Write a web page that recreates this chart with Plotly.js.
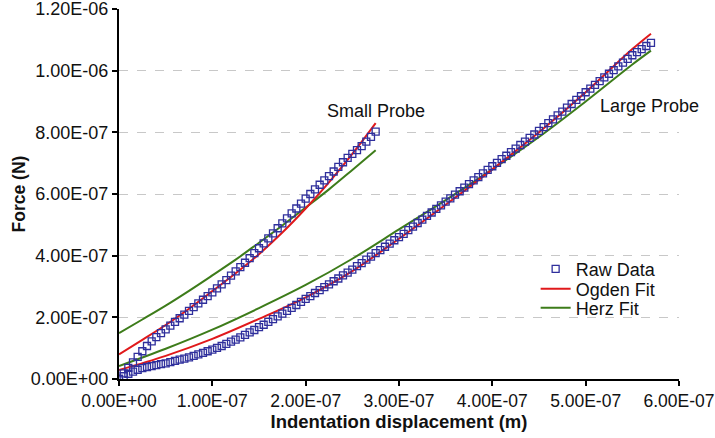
<!DOCTYPE html>
<html>
<head>
<meta charset="utf-8">
<script src="https://cdn.plot.ly/plotly-3.0.1.min.js"></script>
<style>html,body{margin:0;padding:0;background:#fff}#chart{width:715px;height:438px}</style>
</head>
<body>
<div id="chart"></div>
<script>
// Values in units of 1e-7 (m for displacement, N for force)
const SCALE = 1e-7;

// Large probe raw data
const largeRawX = [0.00,0.05,0.10,0.15,0.20,0.25,0.30,0.35,0.40,0.45,0.50,0.55,0.60,0.65,0.70,0.75,0.80,0.85,0.90,0.95,
  1.00,1.05,1.10,1.15,1.20,1.25,1.30,1.35,1.40,1.45,1.50,1.55,1.60,1.65,1.70,1.75,1.80,1.85,1.90,1.95,
  2.00,2.05,2.10,2.15,2.20,2.25,2.30,2.35,2.40,2.45,2.50,2.55,2.60,2.65,2.70,2.75,2.80,2.85,2.90,2.95,
  3.00,3.05,3.10,3.15,3.20,3.25,3.30,3.35,3.40,3.45,3.50,3.55,3.60,3.65,3.70,3.75,3.80,3.85,3.90,3.95,
  4.00,4.05,4.10,4.15,4.20,4.25,4.30,4.35,4.40,4.45,4.50,4.55,4.60,4.65,4.70,4.75,4.80,4.85,4.90,4.95,
  5.00,5.05,5.10,5.15,5.20,5.25,5.30,5.35,5.40,5.45,5.50,5.55,5.60,5.65,5.70];
const largeRawF = [0.00,0.09,0.17,0.24,0.30,0.35,0.39,0.42,0.45,0.48,0.51,0.55,0.59,0.63,0.66,0.70,0.75,0.80,0.85,0.90,
  0.95,1.01,1.07,1.14,1.21,1.28,1.35,1.43,1.51,1.59,1.68,1.76,1.85,1.94,2.03,2.12,2.21,2.31,2.40,2.50,
  2.60,2.69,2.79,2.88,2.98,3.07,3.17,3.26,3.36,3.45,3.55,3.66,3.76,3.87,3.97,4.08,4.18,4.29,4.39,4.50,
  4.60,4.71,4.83,4.94,5.06,5.17,5.29,5.40,5.52,5.63,5.75,5.86,5.98,6.09,6.21,6.32,6.44,6.55,6.67,6.78,
  6.90,7.01,7.13,7.24,7.36,7.47,7.59,7.70,7.82,7.93,8.05,8.17,8.30,8.42,8.55,8.67,8.80,8.92,9.05,9.17,
  9.30,9.42,9.54,9.66,9.78,9.90,10.02,10.14,10.26,10.38,10.50,10.60,10.70,10.80,10.90];

// Small probe raw data
const smallRawX = [0.00,0.05,0.10,0.15,0.20,0.25,0.30,0.35,0.40,0.45,0.50,0.55,0.60,0.65,0.70,0.75,0.80,0.85,0.90,0.95,
  1.00,1.05,1.10,1.15,1.20,1.25,1.30,1.35,1.40,1.45,1.50,1.55,1.60,1.65,1.70,1.75,1.80,1.85,1.90,1.95,
  2.00,2.05,2.10,2.15,2.20,2.25,2.30,2.35,2.40,2.45,2.50,2.55,2.60,2.65,2.70,2.75];
const smallRawF = [0.00,0.18,0.36,0.54,0.72,0.90,1.07,1.22,1.36,1.49,1.61,1.73,1.85,1.97,2.09,2.21,2.33,2.45,2.57,2.69,
  2.81,2.94,3.07,3.21,3.35,3.49,3.63,3.77,3.92,4.08,4.24,4.40,4.56,4.72,4.89,5.05,5.21,5.37,5.53,5.69,
  5.85,6.00,6.15,6.30,6.44,6.58,6.73,6.88,7.03,7.17,7.30,7.42,7.55,7.70,7.85,8.02];

// Fits
const smallFitX = [0.00,0.25,0.50,0.75,1.00,1.25,1.50,1.75,2.00,2.25,2.50,2.75];
const smallOgdenF = [0.80,1.27,1.75,2.28,2.85,3.43,4.05,4.75,5.53,6.38,7.30,8.30];
const smallHerzF  = [1.49,1.93,2.38,2.86,3.36,3.87,4.42,4.98,5.56,6.15,6.78,7.42];
const largeFitX = [0.0,0.5,1.0,1.5,2.0,2.5,3.0,3.5,4.0,4.5,5.0,5.5,5.7];
const largeOgdenF = [0.29,0.75,1.30,1.95,2.65,3.50,4.55,5.65,6.80,8.00,9.30,10.70,11.20];
const largeHerzF  = [0.42,0.98,1.60,2.30,3.05,3.90,4.85,5.80,6.80,7.85,9.00,10.20,10.65];

// Axis ticks
const xTickVals = [0,1,2,3,4,5,6];
const xTickText = ["0.00E+00","1.00E-07","2.00E-07","3.00E-07","4.00E-07","5.00E-07","6.00E-07"];
const yTickVals = [0,2,4,6,8,10,12];
const yTickText = ["0.00E+00","2.00E-07","4.00E-07","6.00E-07","8.00E-07","1.00E-06","1.20E-06"];

const s = a => a.map(v => v * SCALE);

const RAW_COLOR = '#2f2f9c';
const OGDEN_COLOR = '#e0191b';
const HERZ_COLOR = '#3d7c1a';
const FONT = '"Liberation Sans", Arial, sans-serif';
const TXT = '#111';

const traces = [
  {x: s(largeFitX), y: s(largeHerzF), mode: 'lines', line: {color: HERZ_COLOR, width: 2, shape: 'spline'}, name: 'Herz Fit', legend: 'legend3', showlegend: true},
  {x: s(smallFitX), y: s(smallHerzF), mode: 'lines', line: {color: HERZ_COLOR, width: 2, shape: 'spline'}, name: 'Herz Fit', showlegend: false},
  {x: s(largeFitX), y: s(largeOgdenF), mode: 'lines', line: {color: OGDEN_COLOR, width: 2, shape: 'spline'}, name: 'Ogden Fit', legend: 'legend2', showlegend: true},
  {x: s(smallFitX), y: s(smallOgdenF), mode: 'lines', line: {color: OGDEN_COLOR, width: 2, shape: 'spline'}, name: 'Ogden Fit', showlegend: false},
  {x: s(largeRawX), y: s(largeRawF), mode: 'markers', marker: {symbol: 'square-open', size: 7, color: RAW_COLOR, line: {width: 1.3}}, name: 'Raw Data', legend: 'legend', showlegend: true},
  {x: s(smallRawX), y: s(smallRawF), mode: 'markers', marker: {symbol: 'square-open', size: 7, color: RAW_COLOR, line: {width: 1.3}}, name: 'Raw Data', showlegend: false}
];

const legendBase = {x: 0.744, xanchor: 'left', yanchor: 'middle', bgcolor: 'rgba(0,0,0,0)', font: {size: 18, family: FONT, color: TXT}, borderwidth: 0};

const layout = {
  width: 715, height: 438,
  margin: {l: 119, r: 36, t: 9, b: 59},
  paper_bgcolor: '#fff', plot_bgcolor: '#fff',
  font: {family: FONT, size: 18, color: TXT},
  showlegend: true,
  legend:  Object.assign({}, legendBase, {y: 0.297}),
  legend2: Object.assign({}, legendBase, {y: 0.243}),
  legend3: Object.assign({}, legendBase, {y: 0.192}),
  xaxis: {
    range: [0, 6.0002 * SCALE], tickmode: 'array', tickvals: s(xTickVals), ticktext: xTickText,
    showgrid: false, zeroline: false, showline: true, linecolor: '#000', linewidth: 2,
    ticks: 'outside', ticklen: 5, tickwidth: 2, tickcolor: '#000', ticklabeloverflow: 'allow',
    tickfont: {size: 17.5, family: FONT, color: TXT},
    title: {text: '<b>Indentation displacement (m)</b>', font: {size: 18.5, family: FONT, color: TXT}, standoff: 2}
  },
  yaxis: {
    range: [0, 12.0004 * SCALE], tickmode: 'array', tickvals: s(yTickVals), ticktext: yTickText,
    showgrid: true, gridcolor: '#c8c8c8', griddash: 'dash', gridwidth: 1,
    zeroline: false, showline: true, linecolor: '#000', linewidth: 2,
    ticks: 'outside', ticklen: 5, tickwidth: 2, tickcolor: '#000', ticklabeloverflow: 'allow',
    tickfont: {size: 18, family: FONT, color: TXT},
    title: {text: '<b>Force (N)</b>', font: {size: 17.5, family: FONT, color: TXT}, standoff: 1}
  },
  annotations: [
    {x: 2.75 * SCALE, y: 8.68 * SCALE, text: 'Small Probe', showarrow: false, font: {size: 18, family: FONT, color: TXT}},
    {x: 5.68 * SCALE, y: 8.86 * SCALE, text: 'Large Probe', showarrow: false, font: {size: 18, family: FONT, color: TXT}}
  ]
};

Plotly.newPlot('chart', traces, layout, {displayModeBar: false, staticPlot: true});
</script>
</body>
</html>
